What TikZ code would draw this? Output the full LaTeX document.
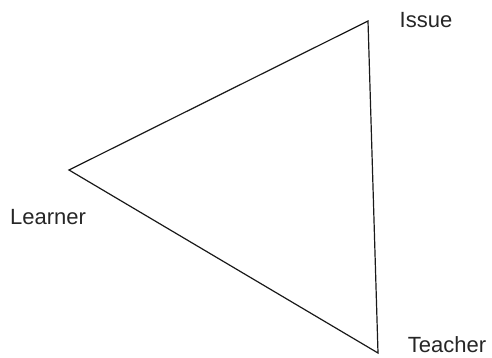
\documentclass[tikz,border=0pt]{standalone}
\usepackage{fontspec}
\setmainfont{Liberation Sans}
\begin{document}
\begin{tikzpicture}[x=1pt,y=-1pt,
  lbl/.style={inner sep=0pt,font=\fontsize{22}{26}\selectfont,text=black!85},
  edge/.style={line width=1.2pt,black!90,line join=miter}]
\useasboundingbox (0,0) rectangle (492,357);
\coordinate (I) at (368,21);
\coordinate (L) at (69,170);
\coordinate (T) at (378,353);
\node[lbl] (issue) at (426,20) {Issue};
\node[lbl] (learner) at (48,217) {Learner};
\node[lbl] (teacher) at (447,345) {Teacher};
\draw[edge] (I) -- (T) -- (L) -- cycle;
\end{tikzpicture}
\end{document}
